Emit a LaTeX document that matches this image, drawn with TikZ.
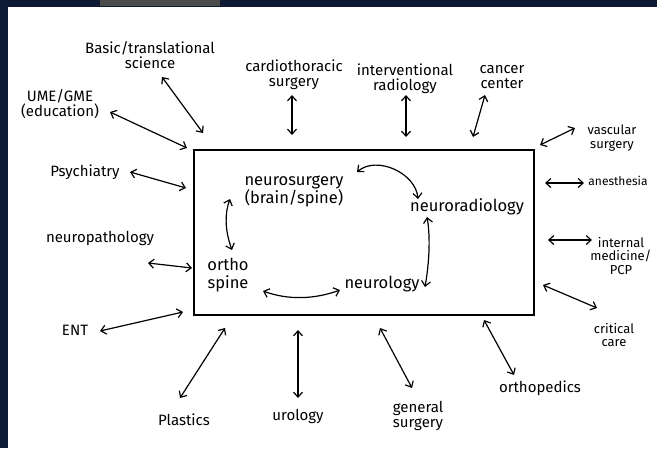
\documentclass[tikz,border=0pt]{standalone}
\usepackage{fontspec}
\setmainfont{Fira Sans}
\usetikzlibrary{arrows.meta}
\definecolor{navy}{HTML}{0E1A33}
\tikzset{
  lbl/.style={font=\fontsize{15}{15}\selectfont, align=center, inner sep=2pt, text=black},
  sml/.style={lbl, font=\fontsize{13}{13.5}\selectfont},
  big/.style={lbl, font=\fontsize{16.5}{18}\selectfont},
  link/.style={draw=black, line width=1.2pt, {Straight Barb[length=5pt,width=9pt]}-{Straight Barb[length=5pt,width=9pt]}},
  frame/.style={draw=black, line width=1.4pt}
}
\begin{document}
\begin{tikzpicture}[x=1pt,y=-1pt]
\useasboundingbox (0,0) rectangle (657,448);
\fill[white] (0,0) rectangle (657,448);
\fill[navy] (0,0) rectangle (657,7);
\fill[navy] (0,0) rectangle (8,448);
\fill[black!70] (100,0) rectangle (220,6);

% central box
\node[frame, minimum width=340pt, minimum height=165pt, inner sep=0pt] (box) at (364,232.5) {};

% inner labels
\node[big] (ns) at (294,191) {neurosurgery\\(brain/spine)};
\node[big] (nr) at (467,207) {neuroradiology};
\node[big] (nl) at (382,284) {neurology};
\node[big] (os) at (228,275) {ortho\\spine};

\draw[link] (357,172) coordinate (nsA) to[out=40,in=95,looseness=1] (418,199) coordinate (nrA);
\draw[link] (427,217) coordinate (nrB) to[out=-80,in=80,looseness=0.8] (425,287) coordinate (nlA);
\draw[link] (340,290) coordinate (nlB) to[out=-160,in=-20,looseness=0.9] (263,291) coordinate (osA);
\draw[link] (232,250) coordinate (osB) to[out=110,in=-110,looseness=0.9] (230,199) coordinate (nsB);

% outer labels
\node[lbl] (basic) at (150,55) {Basic/translational\\science};
\node[lbl] (ume) at (60,104) {UME/GME\\(education)};
\node[lbl] (psy) at (85,172) {Psychiatry};
\node[lbl] (npath) at (100,238) {neuropathology};
\node[lbl] (ent) at (75,330) {ENT};
\node[lbl] (plas) at (184,420) {Plastics};
\node[lbl] (uro) at (298,416) {urology};
\node[lbl] (gs) at (418,416) {general\\surgery};
\node[lbl] (ortho) at (540,388) {orthopedics};
\node[sml] (cc) at (614,335) {critical\\care};
\node[sml] (im) at (621,256) {internal\\medicine/\\PCP};
\node[sml, font=\fontsize{12}{12}\selectfont] (anes) at (618,181) {anesthesia};
\node[sml] (vasc) at (612,138) {vascular\\surgery};
\node[lbl] (cancer) at (502,77) {cancer\\center};
\node[lbl] (ir) at (405,79) {interventional\\radiology};
\node[lbl] (cardio) at (294,75) {cardiothoracic\\surgery};

% connectors to the box
\coordinate (pBasic) at (203,133);
\coordinate (pUme) at (187,148);
\coordinate (pPsy) at (186,188);
\coordinate (pNpath) at (192,268);
\coordinate (pEnt) at (183,312);
\coordinate (pPlas) at (225,328);
\coordinate (pUro) at (298,330);
\coordinate (pGs) at (380,328);
\coordinate (pOrtho) at (484,320);
\coordinate (pCc) at (543,285);
\coordinate (pIm) at (548,240);
\coordinate (pAnes) at (545,183);
\coordinate (pVasc) at (540,145);
\coordinate (pCancer) at (473,137);
\coordinate (pIr) at (406,137);
\coordinate (pCardio) at (292,135);

\draw[link] (162,77) coordinate (qBasic) -- (pBasic);
\draw[link] (110,112) coordinate (qUme) -- (pUme);
\draw[link] (130,172) coordinate (qPsy) -- (pPsy);
\draw[link] (148,263) coordinate (qNpath) -- (pNpath);
\draw[link] (100,331) coordinate (qEnt) -- (pEnt);
\draw[link] (180,398) coordinate (qPlas) -- (pPlas);
\draw[link] (298,398) coordinate (qUro) -- (pUro);
\draw[link] (412,388) coordinate (qGs) -- (pGs);
\draw[link] (514,375) coordinate (qOrtho) -- (pOrtho);
\draw[link] (597,308) coordinate (qCc) -- (pCc);
\draw[link] (592,240) coordinate (qIm) -- (pIm);
\draw[link] (584,183) coordinate (qAnes) -- (pAnes);
\draw[link] (575,128) coordinate (qVasc) -- (pVasc);
\draw[link] (485,95) coordinate (qCancer) -- (pCancer);
\draw[link] (406,95) coordinate (qIr) -- (pIr);
\draw[link] (292,95) coordinate (qCardio) -- (pCardio);
\end{tikzpicture}
\end{document}
